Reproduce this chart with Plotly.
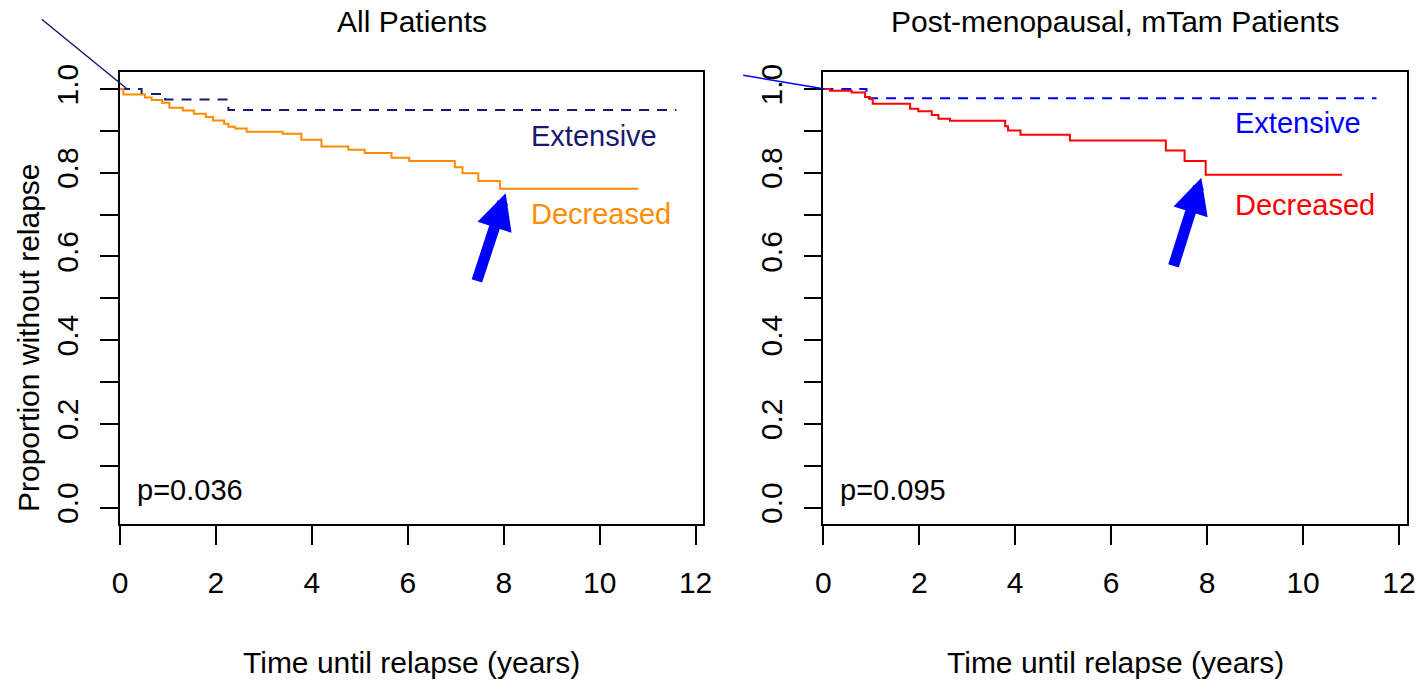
import plotly.graph_objects as go

# ---- data ----
left_ext_t = [0, 0.45, 0.94, 2.26, 11.60]
left_ext_s = [1.0, 0.988, 0.975, 0.950, 0.950]

left_dec_t = [0, 0.07, 0.52, 0.66, 0.88, 1.03, 1.31, 1.54, 1.79, 1.94, 2.17, 2.26, 2.40, 2.64,
              3.39, 3.78, 4.20, 4.76, 5.10, 5.66, 6.03, 6.98, 7.14, 7.47, 7.92, 10.80]
left_dec_s = [1.0, 0.987, 0.980, 0.974, 0.967, 0.955, 0.949, 0.941, 0.933, 0.925, 0.917, 0.910, 0.906, 0.898,
              0.893, 0.879, 0.863, 0.855, 0.847, 0.836, 0.828, 0.813, 0.799, 0.780, 0.762, 0.762]

right_ext_t = [0, 0.90, 11.53]
right_ext_s = [1.0, 0.978, 0.978]

right_dec_t = [0, 0.14, 0.59, 0.87, 0.97, 1.03, 1.81, 1.98, 2.26, 2.40, 2.64, 3.79, 3.85, 4.11,
               5.14, 7.14, 7.53, 7.97, 10.81]
right_dec_s = [1.0, 0.996, 0.992, 0.981, 0.976, 0.965, 0.953, 0.947, 0.938, 0.929, 0.924, 0.911, 0.901, 0.891,
               0.877, 0.853, 0.828, 0.795, 0.795]

titles = ["All Patients", "Post-menopausal, mTam Patients"]
p_values = ["p=0.036", "p=0.095"]
x_ticks = [0, 2, 4, 6, 8, 10, 12]
y_ticks = [0.0, 0.1, 0.2, 0.3, 0.4, 0.5, 0.6, 0.7, 0.8, 0.9, 1.0]
y_tick_text = ["0.0", "", "0.2", "", "0.4", "", "0.6", "", "0.8", "", "1.0"]

# arrows (tail -> tip) in data units
left_arrow = dict(tail=(7.43, 0.538), tip=(8.04, 0.751))
right_arrow = dict(tail=(7.29, 0.574), tip=(7.88, 0.788))

W, H = 1420, 680
FONT = "Liberation Sans, Arial, sans-serif"
FS = 29
FS_T = 30

left_col_ext = "#191970"
left_col_dec = "#FF8C00"
right_col_ext = "#0000FF"
right_col_dec = "#FF0000"

fig = go.Figure()

fig.add_trace(go.Scatter(x=left_ext_t, y=left_ext_s, mode="lines", line_shape="hv",
                         line=dict(color=left_col_ext, width=2, dash="10px,8px"),
                         xaxis="x", yaxis="y", showlegend=False))
fig.add_trace(go.Scatter(x=left_dec_t, y=left_dec_s, mode="lines", line_shape="hv",
                         line=dict(color=left_col_dec, width=2),
                         xaxis="x", yaxis="y", showlegend=False))
fig.add_trace(go.Scatter(x=right_ext_t, y=right_ext_s, mode="lines", line_shape="hv",
                         line=dict(color=right_col_ext, width=2, dash="10px,8px"),
                         xaxis="x2", yaxis="y2", showlegend=False))
fig.add_trace(go.Scatter(x=right_dec_t, y=right_dec_s, mode="lines", line_shape="hv",
                         line=dict(color=right_col_dec, width=2),
                         xaxis="x2", yaxis="y2", showlegend=False))

xdom_l = [120 / W, 703.3 / W]
xdom_r = [823.3 / W, 1406.7 / W]
ydom = [1 - 524.3 / H, 1 - 72.3 / H]

axis_common = dict(showline=True, linecolor="black", linewidth=1.5, mirror=True,
                   showgrid=False, zeroline=False, ticks="outside", tickcolor="black",
                   tickwidth=1.5, automargin=False,
                   tickfont=dict(family=FONT, size=FS_T, color="black"))

xa = dict(range=[0, 12.16], tickvals=x_ticks, ticklen=19, ticklabelstandoff=12, **axis_common)
ya = dict(range=[-0.04, 1.04], tickvals=y_ticks, ticktext=y_tick_text, ticklen=18,
          tickangle=-90, ticklabelstandoff=10, **axis_common)

fig.update_layout(
    width=W, height=H, margin=dict(l=0, r=0, t=0, b=0, autoexpand=False),
    paper_bgcolor="white", plot_bgcolor="white",
    xaxis=dict(domain=xdom_l, anchor="y", **xa),
    yaxis=dict(domain=ydom, anchor="x", **ya),
    xaxis2=dict(domain=xdom_r, anchor="y2", **xa),
    yaxis2=dict(domain=ydom, anchor="x2", **ya),
)

ann = []
# titles
for i, (dom, t) in enumerate(zip([xdom_l, xdom_r], titles)):
    cx = (dom[0] + dom[1]) / 2
    ann.append(dict(text=t, x=cx, y=1 - 22 / H, xref="paper", yref="paper", showarrow=False,
                    xanchor="center", yanchor="middle", font=dict(family=FONT, size=FS_T, color="black")))
    ann.append(dict(text="Time until relapse (years)", x=cx, y=1 - 662 / H, xref="paper", yref="paper",
                    showarrow=False, xanchor="center", yanchor="middle",
                    font=dict(family=FONT, size=FS_T, color="black")))
# y title
ann.append(dict(text="Proportion without relapse", x=28 / W, y=1 - 338 / H, xref="paper", yref="paper",
                showarrow=False, textangle=-90, xanchor="center", yanchor="middle",
                font=dict(family=FONT, size=FS_T, color="black")))

# curve labels
ann += [
    dict(text="Extensive", x=8.52, y=0.889, xref="x", yref="y", showarrow=False, xanchor="left",
         yanchor="middle", font=dict(family=FONT, size=FS, color=left_col_ext)),
    dict(text="Decreased", x=8.52, y=0.702, xref="x", yref="y", showarrow=False, xanchor="left",
         yanchor="middle", font=dict(family=FONT, size=FS, color=left_col_dec)),
    dict(text="Extensive", x=8.54, y=0.92, xref="x2", yref="y2", showarrow=False, xanchor="left",
         yanchor="middle", font=dict(family=FONT, size=FS, color=right_col_ext)),
    dict(text="Decreased", x=8.54, y=0.722, xref="x2", yref="y2", showarrow=False, xanchor="left",
         yanchor="middle", font=dict(family=FONT, size=FS, color=right_col_dec)),
    dict(text=p_values[0], x=0.31, y=0.041, xref="x", yref="y", showarrow=False, xanchor="left",
         yanchor="middle", font=dict(family=FONT, size=FS, color="black")),
    dict(text=p_values[1], x=0.30, y=0.041, xref="x2", yref="y2", showarrow=False, xanchor="left",
         yanchor="middle", font=dict(family=FONT, size=FS, color="black")),
]

# thin diagonal lines leaving the plot at top-left
ann.append(dict(text="", x=0.15, y=1.0, xref="x", yref="y", showarrow=True, arrowhead=0,
                ax=-87, ay=-71, arrowwidth=1.5, arrowcolor=left_col_ext, standoff=0, startstandoff=0))
ann.append(dict(text="", x=0.03, y=1.0, xref="x2", yref="y2", showarrow=True, arrowhead=0,
                ax=-83, ay=-14, arrowwidth=1.5, arrowcolor=right_col_ext, standoff=0, startstandoff=0))

# thick blue arrows
for a, xr, yr in [(left_arrow, "x", "y"), (right_arrow, "x2", "y2")]:
    ann.append(dict(text="", x=a["tip"][0], y=a["tip"][1], ax=a["tail"][0], ay=a["tail"][1],
                    xref=xr, yref=yr, axref=xr, ayref=yr, showarrow=True, arrowhead=2,
                    arrowsize=0.65, arrowwidth=11, arrowcolor="#0000FF", standoff=0))

fig.update_layout(annotations=ann)
fig.write_html("out.html")
